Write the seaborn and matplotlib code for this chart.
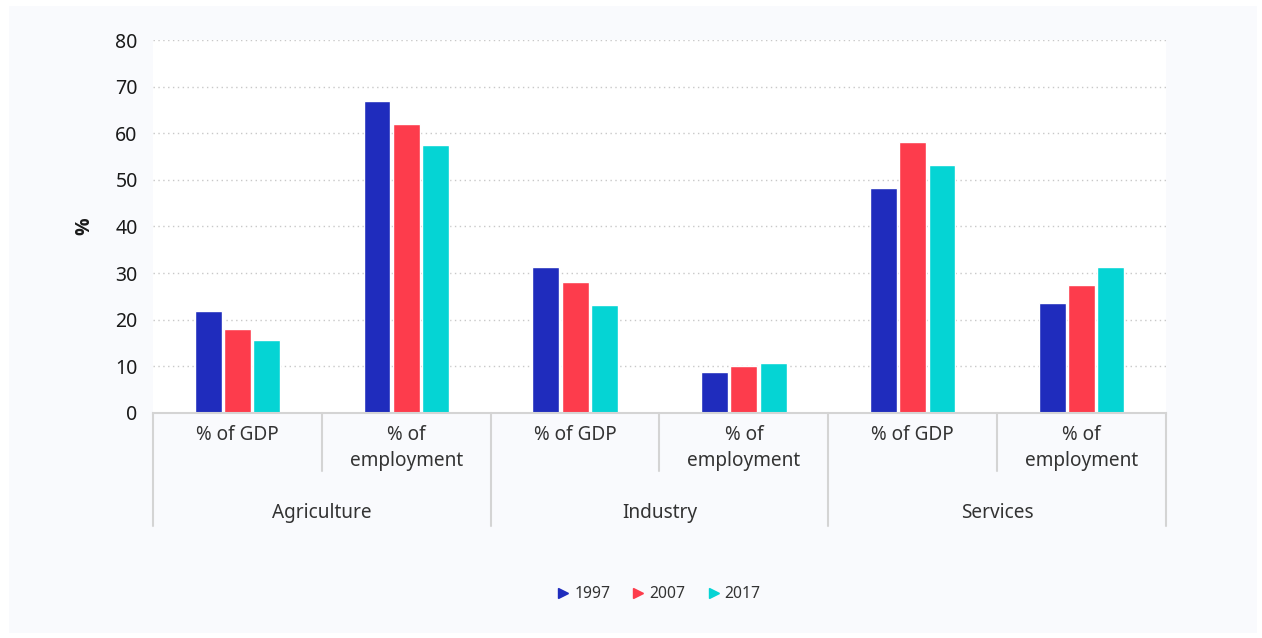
import numpy as np
import pandas as pd
import seaborn as sns
import matplotlib
matplotlib.use("Agg")
import matplotlib.pyplot as plt
from matplotlib.patches import Rectangle
from matplotlib.lines import Line2D
import matplotlib.transforms as mtransforms

# ---- data -------------------------------------------------------------
sectors = ["Agriculture", "Industry", "Services"]
measures = ["% of GDP", "% of\nemployment"]
years = ["1997", "2007", "2017"]

share_1997 = [21.9, 66.9, 31.4, 8.9, 48.3, 23.6]
share_2007 = [18.1, 62.0, 28.1, 10.1, 58.1, 27.5]
share_2017 = [15.7, 57.5, 23.2, 10.8, 53.2, 31.4]

palette = ["#1f2cbd", "#fd3c4c", "#05d4d4"]

# ---- long table for seaborn ------------------------------------------
keys = [f"{s}|{m}" for s in sectors for m in measures]
rows = []
for year, vals in zip(years, [share_1997, share_2007, share_2017]):
    for k, v in zip(keys, vals):
        rows.append({"cat": k, "year": year, "value": v})
df = pd.DataFrame(rows)

sns.set_theme(style="white")
plt.rcParams["font.family"] = ["Noto Sans", "Open Sans", "DejaVu Sans"]

W, H = 1262, 638
fig = plt.figure(figsize=(W / 100, H / 100), dpi=100, facecolor="white")

# light panel behind the chart
panel = Rectangle((9 / W, 5 / H), (1257 - 9) / W, (633 - 6) / H,
                  transform=fig.transFigure, facecolor="#f9fafd",
                  edgecolor="none", zorder=-10)
fig.add_artist(panel)

ax = fig.add_axes([153 / W, (H - 413) / H, (1166 - 153) / W, (413 - 40) / H])
ax.set_zorder(1)
ax.set_facecolor("white")

sns.barplot(data=df, x="cat", y="value", hue="year", order=keys,
            hue_order=years, palette=palette, width=0.52, gap=0.08,
            saturation=1, legend=False, ax=ax)

ax.set_xlim(-0.5, len(keys) - 0.5)
ax.set_ylim(0, 80)
ax.set_yticks(np.arange(0, 81, 10))
ax.tick_params(axis="y", length=0, pad=11, labelsize=14, labelcolor="#1a1a1a")
ax.yaxis.grid(True, linestyle=(0, (1, 2.5)), color="#c8c8c8", linewidth=1)
ax.set_axisbelow(True)
ax.set_xticks([])
ax.set_xlabel("")
ax.set_ylabel("%", fontsize=14, fontweight="bold", color="#1a1a1a",
              labelpad=15, family=["Open Sans", "DejaVu Sans"])
for side in ["top", "right", "left"]:
    ax.spines[side].set_visible(False)
ax.spines["bottom"].set_color("#d4d4d4")
ax.spines["bottom"].set_linewidth(1.5)

# hierarchical category axis
trans = mtransforms.blended_transform_factory(ax.transData, fig.transFigure)
sep_col = "#d4d4d4"
for i in range(len(keys)):
    measure = keys[i].split("|")[1]
    ax.text(i, (H - 425) / H, measure, transform=trans, ha="center", va="top",
            fontsize=13.7, color="#333333", linespacing=1.42)
for j, s in enumerate(sectors):
    ax.text(2 * j + 0.5, (H - 513) / H, s, transform=trans, ha="center",
            va="center", fontsize=13.7, color="#333333")
    # separator between the two measures of a sector
    ax.add_line(Line2D([2 * j + 0.5] * 2, [(H - 413) / H, (H - 471) / H],
                       transform=trans, color=sep_col, linewidth=1.5,
                       clip_on=False))
for b in [-0.5, 1.5, 3.5, 5.5]:
    ax.add_line(Line2D([b] * 2, [(H - 413) / H, (H - 526) / H],
                       transform=trans, color=sep_col, linewidth=1.5,
                       clip_on=False))

# legend
handles = [Line2D([], [], marker=">", linestyle="none", markersize=7,
                  markerfacecolor=c, markeredgecolor=c) for c in palette]
fig.legend(handles, years, loc="center", bbox_to_anchor=(658 / W, (H - 594) / H),
           ncol=3, frameon=False, fontsize=11.3, handletextpad=0.2,
           columnspacing=1.3, handlelength=1.0, labelcolor="#333333")

fig.savefig("out.png", dpi=100, facecolor="white")
